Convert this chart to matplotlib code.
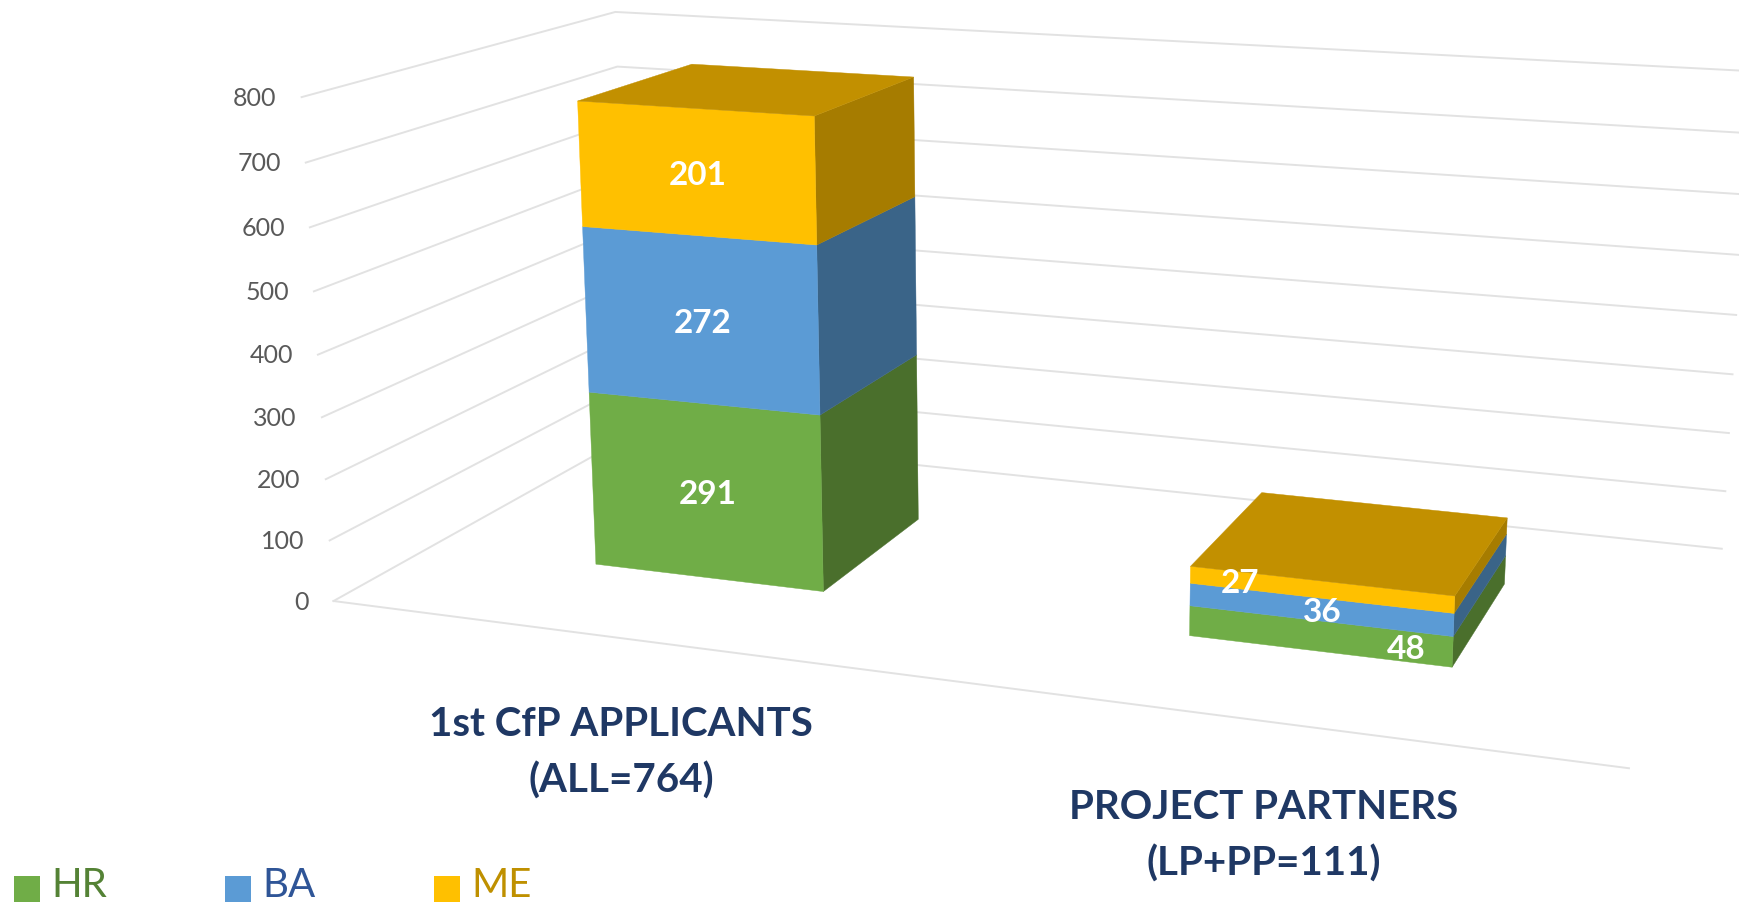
import numpy as np
from matplotlib import pyplot as plt

plt.rcParams['font.family'] = ['Lato', 'DejaVu Sans']

# Data
categories = ['1st CfP APPLICANTS\n(ALL=764)', 'PROJECT PARTNERS\n(LP+PP=111)']
series_names = ['HR', 'BA', 'ME']
hr_values = [291, 48]
ba_values = [272, 36]
me_values = [201, 27]
axis_ticks = [0, 100, 200, 300, 400, 500, 600, 700, 800]

# Styles
front_colors = ['#70AD47', '#5B9BD5', '#FFC000']
side_colors = ['#4A6F2C', '#3A6488', '#A67C00']
top_color = '#C29000'
legend_text_colors = ['#548235', '#2F5597', '#BF9000']
grid_color = '#E2E2E2'
tick_color = '#595959'
cat_color = '#1F3864'

# Bar layout inside the chart box (0-1 along the categories and the depth)
bar_width = 0.2
bar_front, bar_back = 0.30, 0.70
cat_centers = [0.249, 0.749]
# where the data label sits across the front face, per category and series
label_across = [[0.5, 0.5, 0.5], [0.82, 0.5, 0.186]]

# Camera calibration: chart box corners (x, depth, value) -> pixel on the image
box_points = [(0, 0, 0), (0, 0, 400), (0, 0, 800), (1, 0, 0), (0, 1, 0), (0, 1, 800),
              (1, 1, 0), (1, 1, 400), (1, 1, 800)]
box_pixels = [(334, 601), (318, 355), (301, 97), (1629, 768), (630, 435), (616, 12),
              (1722, 549), (1736, 315), (1751, 71)]


def fit_camera(points, pixels):
    rows = []
    rhs = []
    for (x, y, v), (px, py) in zip(points, pixels):
        z = v / 800
        rows.append([x, y, z, 1, 0, 0, 0, 0, -px * x, -px * y, -px * z])
        rows.append([0, 0, 0, 0, x, y, z, 1, -py * x, -py * y, -py * z])
        rhs += [px, py]
    sol = np.linalg.lstsq(np.array(rows, float), np.array(rhs, float), rcond=None)[0]
    return np.append(sol, 1).reshape(3, 4)


camera = fit_camera(box_points, box_pixels)


def project(x, y, v):
    p = camera @ np.array([x, y, v / 800, 1])
    return p[0] / p[2], p[1] / p[2]


def face(ax, corners, color, zorder):
    pts = [project(*c) for c in corners]
    ax.fill([p[0] for p in pts], [p[1] for p in pts], color=color, lw=0.3, zorder=zorder)


fig = plt.figure(figsize=(17.4, 9.05), dpi=100)
ax = fig.add_axes([0, 0, 1, 1])
ax.set_xlim(0, 1740)
ax.set_ylim(905, 0)
ax.axis('off')

# Gridlines on the left and back walls
for tick in axis_ticks:
    pts = [project(0, 0, tick), project(0, 1, tick), project(1, 1, tick)]
    ax.plot([p[0] for p in pts], [p[1] for p in pts], color=grid_color, lw=1.4, zorder=1)
    ax.text(pts[0][0] - 25, pts[0][1] + 1, str(tick), ha='right', va='center',
            fontsize=18, color=tick_color)
pts = [project(0, 0, 0), project(1, 0, 0)]
ax.plot([p[0] for p in pts], [p[1] for p in pts], color=grid_color, lw=1.4, zorder=1)

# Stacked bars
stacks = [hr_values, ba_values, me_values]
for c, center in enumerate(cat_centers):
    x0 = center - bar_width / 2
    x1 = center + bar_width / 2
    base = 0
    for s, values in enumerate(stacks):
        top = base + values[c]
        face(ax, [(x1, bar_front, base), (x1, bar_back, base), (x1, bar_back, top), (x1, bar_front, top)],
             side_colors[s], 3)
        face(ax, [(x0, bar_front, base), (x1, bar_front, base), (x1, bar_front, top), (x0, bar_front, top)],
             front_colors[s], 3)
        lx, ly = project(x0 + bar_width * label_across[c][s], bar_front, base + values[c] / 2)
        ax.text(lx + 2, ly + 3, str(values[c]), ha='center', va='center', fontsize=24,
                fontweight='bold', color='white', zorder=5)
        base = top
    face(ax, [(x0, bar_front, base), (x1, bar_front, base), (x1, bar_back, base), (x0, bar_back, base)],
         top_color, 4)

# Category labels
ax.text(621, 753, categories[0], ha='center', va='center', fontsize=29, fontweight='bold',
        color=cat_color, linespacing=1.6)
ax.text(1264, 836, categories[1], ha='center', va='center', fontsize=29, fontweight='bold',
        color=cat_color, linespacing=1.6)

# Legend
legend_x = [14, 225, 434]
for name, lx, col, tcol in zip(series_names, legend_x, front_colors, legend_text_colors):
    ax.fill([lx, lx + 26, lx + 26, lx], [876, 876, 902, 902], color=col, lw=0)
    ax.text(lx + 37, 897, name, ha='left', va='baseline', fontsize=29, color=tcol)

fig.savefig('out.png', dpi=100)
